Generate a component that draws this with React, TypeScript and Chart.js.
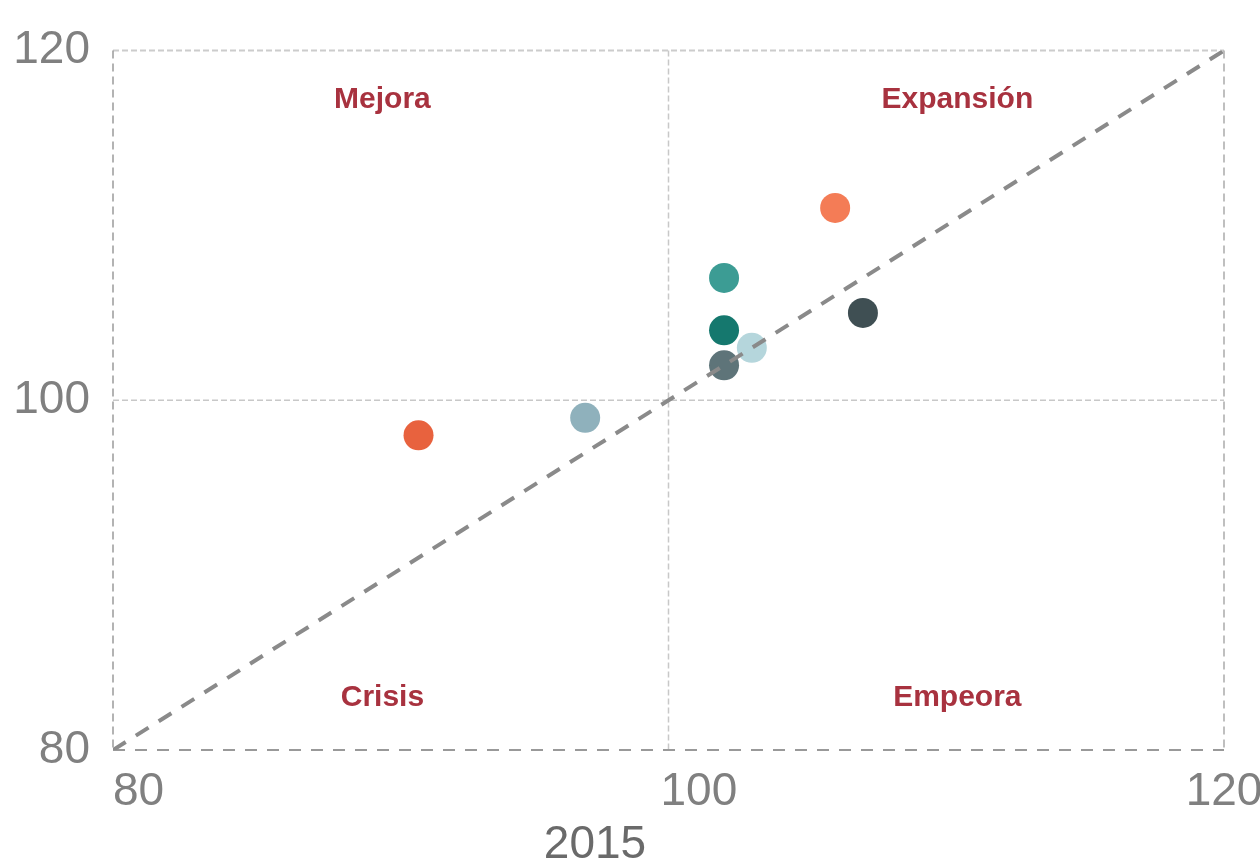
import React, { useEffect, useRef } from "react";
import { Chart, registerables } from "chart.js";

Chart.register(...registerables);

// ---- data ----
const pointX = [91, 97, 102, 102, 103, 102, 106, 107];
const pointY = [98, 99, 107, 104, 103, 102, 111, 105];
const pointColors = [
  "#e8623e",
  "#8fb1bc",
  "#3c9c94",
  "#15786e",
  "#b5d6dc",
  "#5e7479",
  "#f47c56",
  "#3f4f53",
];
const diagonalX = [80, 120];
const diagonalY = [80, 120];
const quadLabels = ["Mejora", "Expansión", "Crisis", "Empeora"];
const quadX = [89.7, 110.4, 89.7, 110.4];
const quadY = [117.2, 117.2, 83.0, 83.0];
const xTickValues = [80, 100, 120];
const xTickLabels = ["80", "100", "120"];
const axisMin = 80;
const axisMax = 120;
const tickStep = 20;
const midValue = 100;
const xTitle = "2015";

const FONT = "'Liberation Sans', Arial, Helvetica, sans-serif";
const xTickAlign = ["left", "left", "center"];
const xTickShift = [0, -8, 0];

const framePlugin = {
  id: "frame",
  beforeDatasetsDraw(chart: any) {
    const { ctx, chartArea, scales } = chart;
    const xs = scales.x;
    const ys = scales.y;
    const l = chartArea.left, r = chartArea.right, t = chartArea.top, b = chartArea.bottom;
    const line = (x1: number, y1: number, x2: number, y2: number, color: string, w: number, dash: number[]) => {
      ctx.save();
      ctx.strokeStyle = color;
      ctx.lineWidth = w;
      ctx.setLineDash(dash);
      ctx.beginPath();
      ctx.moveTo(x1, y1);
      ctx.lineTo(x2, y2);
      ctx.stroke();
      ctx.restore();
    };
    const mx = xs.getPixelForValue(midValue);
    const my = ys.getPixelForValue(midValue);
    line(mx, t, mx, b, "#c8c8c8", 1.5, [6, 3]);
    line(l, my, r, my, "#c8c8c8", 1.5, [6, 3]);
    line(l, t, r, t, "#cccccc", 2, [6, 3]);
    line(r, t, r, b, "#aaaaaa", 1.5, [8, 5]);
    line(l, t, l, b, "#9a9a9a", 1.5, [8, 5]);
    line(l, b, r, b, "#999999", 2, [12, 10]);
  },
  afterDraw(chart: any) {
    const { ctx, scales, chartArea } = chart;
    ctx.save();
    ctx.fillStyle = "#a8323f";
    ctx.font = `bold 30px ${FONT}`;
    ctx.textAlign = "center";
    ctx.textBaseline = "middle";
    quadLabels.forEach((lab, i) => {
      ctx.fillText(lab, scales.x.getPixelForValue(quadX[i]), scales.y.getPixelForValue(quadY[i]));
    });
    // x tick labels
    ctx.fillStyle = "#808080";
    ctx.font = `46px ${FONT}`;
    ctx.textBaseline = "top";
    xTickValues.forEach((v, i) => {
      ctx.textAlign = xTickAlign[i] as CanvasTextAlign;
      ctx.fillText(xTickLabels[i], scales.x.getPixelForValue(v) + xTickShift[i], chartArea.bottom + 19);
    });
    ctx.fillStyle = "#6a6a6a";
    ctx.textAlign = "center";
    ctx.fillText(xTitle, 595, 822);
    ctx.restore();
  },
};

export default function App() {
  const ref = useRef<HTMLCanvasElement | null>(null);
  useEffect(() => {
    if (!ref.current) return;
    const chart = new Chart(ref.current, {
      type: "scatter",
      data: {
        datasets: [
          {
            type: "line",
            data: diagonalX.map((x, i) => ({ x, y: diagonalY[i] })),
            borderColor: "#8a8a8a",
            borderWidth: 4,
            borderDash: [15, 12],
            pointRadius: 0,
            fill: false,
            order: 0,
          } as any,
          {
            data: pointX.map((x, i) => ({ x, y: pointY[i] })),
            backgroundColor: pointColors,
            borderWidth: 0,
            pointRadius: 15,
            pointHoverRadius: 15,
            order: 1,
          },
        ],
      },
      options: {
        animation: false,
        responsive: true,
        maintainAspectRatio: false,
        layout: { padding: { top: 47, right: 36, left: 0, bottom: 0 } },
        plugins: { legend: { display: false }, tooltip: { enabled: false } },
        scales: {
          x: {
            type: "linear",
            min: axisMin,
            max: axisMax,
            grid: { display: false, drawTicks: false },
            border: { display: false },
            ticks: { display: false, stepSize: tickStep },
            afterFit: (s: any) => {
              s.height = 109;
              s.paddingRight = 0;
              s.paddingLeft = 0;
            },
          },
          y: {
            type: "linear",
            min: axisMin,
            max: axisMax,
            grid: { display: false, drawTicks: false },
            border: { display: false },
            ticks: {
              stepSize: tickStep,
              padding: 23,
              color: "#808080",
              font: { family: FONT, size: 46 },
            },
            afterFit: (s: any) => {
              s.width = 113;
            },
          },
        },
      },
      plugins: [framePlugin],
    });
    return () => chart.destroy();
  }, []);
  return (
    <div style={{ position: "absolute", left: 0, top: 0, width: 1260, height: 859, overflow: "hidden", background: "#fff" }}>
      <canvas ref={ref} />
    </div>
  );
}
